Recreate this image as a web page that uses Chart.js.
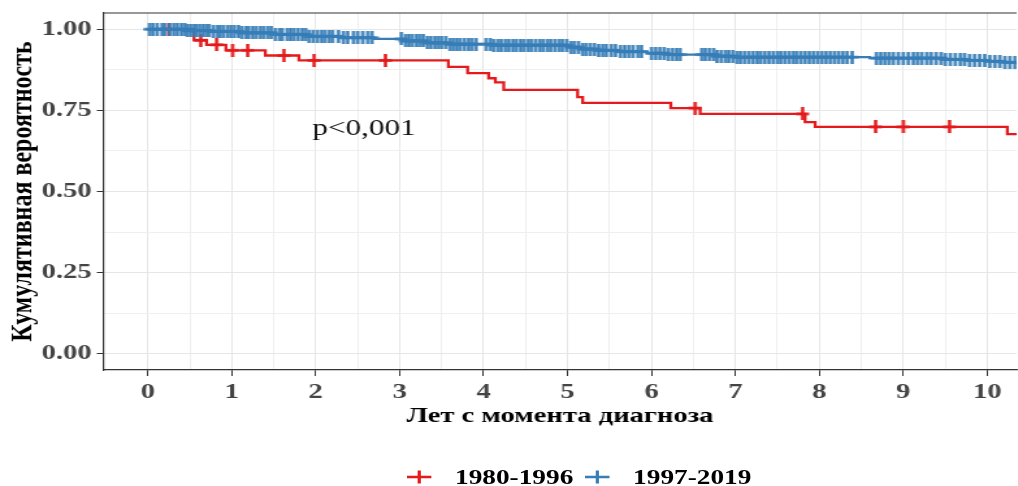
<!DOCTYPE html>
<html lang="ru">
<head>
  <meta charset="UTF-8" />
  <title>Кумулятивная вероятность</title>
  <script src="https://cdn.jsdelivr.net/npm/chart.js"></script>
  <style>
    html, body {
      margin: 0;
      padding: 0;
      background: #fff;
      overflow: hidden;
      width: 1018px;
      height: 486px;
    }
    /* the source picture is stretched sideways, so the whole figure is too */
    #wrap {
      position: absolute;
      left: 0;
      top: 0;
      width: 783px;
      height: 486px;
      transform: scaleX(1.3);
      transform-origin: 0 0;
    }
    /* 5px wider: chart.js keeps a small gap on the right, the page edge cuts it off */
    #box {
      position: absolute;
      left: 0;
      top: 0;
      width: 788px;
      height: 486px;
    }
    #legend {
      position: absolute;
      left: 313px;
      top: 465px;
      height: 24px;
      display: flex;
      align-items: center;
      font-family: 'Liberation Serif', 'Times New Roman', serif;
      font-weight: bold;
      font-size: 21px;
      color: #000;
    }
    #legend svg { margin-right: 18px; }
    #legend span { margin-right: 9px; }
  </style>
</head>
<body>
  <div id="wrap">
    <div id="box"><canvas id="kmChart"></canvas></div>
    <div id="legend"></div>
  </div>

  <script>
    // group 1980-1996: step times and survival after each step
    const redTime = [0, 0.55, 0.7, 0.93, 1.4, 1.8, 3.58, 3.81, 4.06, 4.14, 4.24, 5.12, 5.18, 6.23, 6.58, 7.83, 7.95, 10.24, 10.6];
    const redSurv = [1, 0.966, 0.952, 0.935, 0.919, 0.904, 0.884, 0.865, 0.849, 0.836, 0.813, 0.791, 0.773, 0.757, 0.739, 0.714, 0.699, 0.677, 0.677];
    const redCens = [0.25, 0.63, 0.82, 1.01, 1.19, 1.62, 1.98, 2.83, 6.52, 7.8, 8.67, 9.0, 9.55];

    // group 1997-2019
    const blueTime = [0, 0.45, 0.75, 1.1, 1.5, 1.9, 2.3, 2.7, 3.05, 3.3, 3.6, 4.1, 5.0, 5.15, 5.35, 5.6, 5.95, 6.2, 6.75, 7.0, 8.6, 9.5, 9.75, 10.0, 10.2, 10.6];
    const blueSurv = [1, 0.996, 0.993, 0.989, 0.984, 0.978, 0.974, 0.970, 0.964, 0.958, 0.954, 0.951, 0.945, 0.939, 0.935, 0.931, 0.926, 0.922, 0.917, 0.914, 0.911, 0.907, 0.904, 0.901, 0.898, 0.898];
    const blueCens = [0.02, 0.06, 0.11, 0.17, 0.2, 0.26, 0.31, 0.35, 0.4, 0.44, 0.47, 0.51, 0.55, 0.58, 0.62, 0.66, 0.7, 0.73, 0.78, 0.83,
      0.86, 0.9, 0.95, 0.99, 1.03, 1.08, 1.12, 1.17, 1.2, 1.25, 1.29, 1.34, 1.38, 1.43, 1.47, 1.52, 1.57, 1.6, 1.66, 1.7,
      1.74, 1.79, 1.84, 1.88, 1.92, 1.97, 2.02, 2.07, 2.11, 2.16, 2.2, 2.27, 2.33, 2.38, 2.45, 2.5, 2.56, 2.62, 2.67,
      3.02, 3.07, 3.11, 3.15, 3.2, 3.24, 3.28, 3.33, 3.37, 3.42, 3.46, 3.5, 3.55, 3.6, 3.64, 3.68, 3.72, 3.77, 3.82, 3.86, 3.91,
      4.03, 4.08, 4.12, 4.17, 4.21, 4.26, 4.3, 4.35, 4.39, 4.44, 4.48, 4.53, 4.57, 4.62, 4.67, 4.71, 4.76, 4.8, 4.85, 4.9,
      4.94, 4.99, 5.04, 5.08, 5.13, 5.18, 5.22, 5.27, 5.32, 5.37, 5.42, 5.46, 5.52, 5.57, 5.63, 5.68, 5.73, 5.78, 5.84, 5.88,
      6.0, 6.05, 6.1, 6.15, 6.2, 6.25, 6.3, 6.34,
      6.6, 6.64, 6.69, 6.74, 6.78, 6.83, 6.88, 6.92, 6.97, 7.02, 7.06, 7.11, 7.16, 7.21, 7.26, 7.3, 7.35, 7.4, 7.45, 7.5,
      7.54, 7.59, 7.64, 7.69, 7.73, 7.78, 7.83, 7.88, 7.93, 7.98, 8.03, 8.08, 8.13, 8.18, 8.23, 8.28, 8.33, 8.39,
      8.68, 8.73, 8.78, 8.83, 8.88, 8.94, 9.0, 9.06, 9.12, 9.17, 9.22, 9.28, 9.33, 9.39, 9.45, 9.5, 9.56, 9.62, 9.68, 9.73,
      9.79, 9.85, 9.91, 9.97, 10.03, 10.09, 10.15, 10.21, 10.27, 10.33];

    const groupNames = ['1980-1996', '1997-2019'];
    const groupColors = ['#e41a1c', '#377eb8'];

    const xMajor = [0, 1, 2, 3, 4, 5, 6, 7, 8, 9, 10];
    const xMinor = [0.5, 1.5, 2.5, 3.5, 4.5, 5.5, 6.5, 7.5, 8.5, 9.5];
    const yMajor = [0, 0.25, 0.5, 0.75, 1];
    const yMinor = [0.125, 0.375, 0.625, 0.875];

    const pText = 'p<0,001';
    const pPos = { x: 1.96, y: 0.673 };

    const FONT = "'Liberation Serif', 'Times New Roman', serif";

    function stepPoints(times, surv) {
      return times.map((t, i) => ({ x: t, y: surv[i] }));
    }

    function survAt(times, surv, t) {
      let v = surv[0];
      for (let i = 0; i < times.length; i++) {
        if (times[i] <= t) v = surv[i];
      }
      return v;
    }

    function censPoints(cens, times, surv) {
      return cens.map(t => ({ x: t, y: survAt(times, surv, t) }));
    }

    // plus sign, a bit narrower than tall, since the page gets stretched
    function plusImg(color) {
      const c = document.createElement('canvas');
      c.width = 11;
      c.height = 13;
      const g = c.getContext('2d');
      g.fillStyle = color;
      g.fillRect(4.25, 0, 2.5, 13);
      g.fillRect(0.5, 5.25, 10, 2.5);
      return c;
    }

    function isIn(list, v) {
      return list.some(m => Math.abs(m - v) < 1e-6);
    }

    const borderPlugin = {
      id: 'topBorder',
      afterDraw(chart) {
        const { ctx, chartArea } = chart;
        ctx.save();
        ctx.strokeStyle = '#333333';
        ctx.lineWidth = 1.2;
        ctx.beginPath();
        ctx.moveTo(chartArea.left, chartArea.top);
        ctx.lineTo(chartArea.right, chartArea.top);
        ctx.stroke();
        ctx.restore();
      }
    };

    const pLabelPlugin = {
      id: 'pLabel',
      afterDatasetsDraw(chart) {
        const { ctx, scales } = chart;
        ctx.save();
        ctx.font = '24px ' + FONT;
        ctx.fillStyle = '#111111';
        ctx.textAlign = 'left';
        ctx.textBaseline = 'alphabetic';
        ctx.fillText(pText, scales.x.getPixelForValue(pPos.x), scales.y.getPixelForValue(pPos.y));
        ctx.restore();
      }
    };

    const ctx = document.getElementById('kmChart').getContext('2d');

    const kmChart = new Chart(ctx, {
      type: 'line',
      data: {
        datasets: [
          {
            label: groupNames[0],
            data: stepPoints(redTime, redSurv),
            borderColor: groupColors[0],
            borderWidth: 2.3,
            stepped: 'before',
            pointRadius: 0,
            order: 4
          },
          {
            label: groupNames[1],
            data: stepPoints(blueTime, blueSurv),
            borderColor: groupColors[1],
            borderWidth: 2.3,
            stepped: 'before',
            pointRadius: 0,
            order: 3
          },
          {
            label: groupNames[0] + ' censored',
            data: censPoints(redCens, redTime, redSurv),
            showLine: false,
            pointStyle: plusImg(groupColors[0]),
            pointRadius: 5,
            order: 2
          },
          {
            label: groupNames[1] + ' censored',
            data: censPoints(blueCens, blueTime, blueSurv),
            showLine: false,
            pointStyle: plusImg(groupColors[1]),
            pointRadius: 5,
            order: 1
          }
        ]
      },
      options: {
        responsive: true,
        maintainAspectRatio: false,
        animation: false,
        layout: {
          padding: { left: 0, top: 13, right: 0, bottom: 56 }
        },
        scales: {
          x: {
            type: 'linear',
            min: -0.53,
            max: 10.35,
            afterBuildTicks: s => {
              s.ticks = xMajor.concat(xMinor).sort((a, b) => a - b).map(v => ({ value: v }));
            },
            afterFit: s => {
              s.height = 60;
              s.paddingLeft = 0;
              s.paddingRight = 0;
            },
            ticks: {
              autoSkip: false,
              maxRotation: 0,
              padding: 3,
              color: '#444444',
              font: { family: FONT, size: 22, weight: 'bold' },
              callback: v => isIn(xMajor, v) ? String(v) : ''
            },
            grid: {
              color: c => isIn(xMajor, c.tick.value) ? '#e6e6e6' : '#efefef',
              lineWidth: 1,
              tickLength: 6,
              tickColor: c => isIn(xMajor, c.tick.value) ? '#333333' : 'rgba(0,0,0,0)'
            },
            border: { display: true, color: '#333333', width: 1.2 },
            title: {
              display: true,
              text: 'Лет с момента диагноза',
              color: '#000',
              padding: 0,
              font: { family: FONT, size: 22, weight: 'bold' }
            }
          },
          y: {
            min: -0.05,
            max: 1.05,
            afterBuildTicks: s => {
              s.ticks = yMajor.concat(yMinor).sort((a, b) => a - b).map(v => ({ value: v }));
            },
            afterFit: s => {
              s.width = 79.5;
              s.paddingTop = 0;
              s.paddingBottom = 0;
            },
            ticks: {
              autoSkip: false,
              padding: 4,
              color: '#444444',
              font: { family: FONT, size: 22, weight: 'bold' },
              callback: v => isIn(yMajor, v) ? v.toFixed(2) : ''
            },
            grid: {
              color: c => isIn(yMajor, c.tick.value) ? '#e6e6e6' : '#efefef',
              lineWidth: 1,
              tickLength: 5,
              tickColor: c => isIn(yMajor, c.tick.value) ? '#333333' : 'rgba(0,0,0,0)'
            },
            border: { display: true, color: '#333333', width: 1.2 },
            title: {
              display: true,
              text: 'Кумулятивная вероятность',
              color: '#000',
              padding: { top: 3, bottom: 0 },
              font: { family: FONT, size: 24, weight: 'bold' }
            }
          }
        },
        plugins: {
          legend: { display: false },
          tooltip: { enabled: false }
        }
      },
      plugins: [borderPlugin, pLabelPlugin]
    });

    // legend under the plot: line with a plus, then the group name
    const legend = document.getElementById('legend');
    groupNames.forEach((name, i) => {
      const c = groupColors[i];
      legend.insertAdjacentHTML('beforeend',
        '<svg width="19" height="14" viewBox="0 0 19 14">' +
        '<line x1="0" y1="7" x2="19" y2="7" stroke="' + c + '" stroke-width="2.5"/>' +
        '<line x1="9.5" y1="0.5" x2="9.5" y2="13.5" stroke="' + c + '" stroke-width="2.5"/>' +
        '</svg><span>' + name + '</span>');
    });
  </script>
</body>
</html>
